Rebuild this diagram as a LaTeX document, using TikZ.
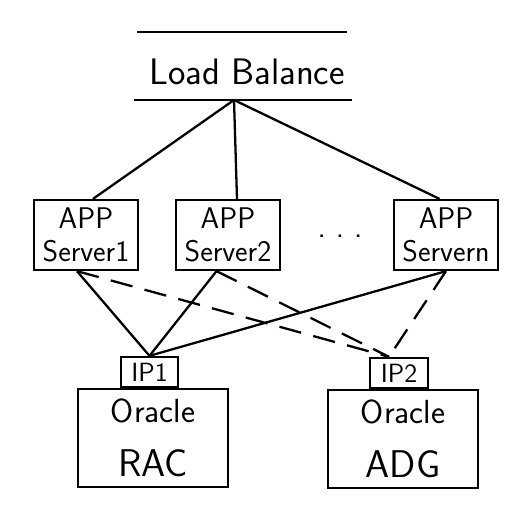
\documentclass[tikz,border=0pt]{standalone}
\usepackage{tikz}
\usetikzlibrary{calc, positioning}

\begin{document}
\begin{tikzpicture}[x=0.02cm, y=-0.02cm, line width=1.3pt, font=\sffamily,
    appbox/.style={draw, align=center, inner sep=0pt, minimum width=2.08cm, minimum height=1.4cm, font=\sffamily\fontsize{17}{19}\selectfont},
    dbbox/.style={draw, align=center, inner sep=0pt, minimum width=3cm, minimum height=1.95cm, font=\sffamily\fontsize{19}{21}\selectfont},
    ipbox/.style={draw, inner sep=0pt, minimum width=1.15cm, minimum height=0.6cm, font=\sffamily\fontsize{15}{17}\selectfont},
    longdash/.style={dash pattern=on 0.45cm off 0.25cm}]
    \useasboundingbox (0,0) rectangle (524,521);

    % Load Balance
    \node[font=\sffamily\fontsize{21}{24}\selectfont] (lb) at (247,72) {Load Balance};
    \draw (137,32) -- (347,32);
    \draw (134,100) -- (352,100);
    \coordinate (apex) at (234,100);

    % App servers
    \node[appbox] (srv1) at (86,235) {APP\\Server1};
    \node[appbox] (srv2) at (228,235) {APP\\Server2};
    \node[appbox] (srvn) at (446,235) {APP\\Servern};
    \node[font=\sffamily\fontsize{18}{20}\selectfont] (dots) at (340,236) {.\ .\ .};

    \draw (apex) -- ([xshift=0.14cm]srv1.north);
    \draw (apex) -- ([xshift=0.18cm]srv2.north);
    \draw (apex) -- ([xshift=-0.13cm]srvn.north);

    % Oracle
    \node[dbbox] (rac) at (153,438) {Oracle\\[10pt]{\fontsize{22}{24}\selectfont RAC}};
    \node[dbbox] (adg) at (403,439) {Oracle\\[10pt]{\fontsize{22}{24}\selectfont ADG}};
    \node[ipbox, above=0pt of rac, xshift=-0.07cm] (ip1) {IP1};
    \node[ipbox, above=0pt of adg, xshift=-0.08cm] (ip2) {IP2};

    % Links
    \foreach \s/\dx in {srv1/-0.18, srv2/-0.23, srvn/0} {
        \draw ([xshift=\dx cm]\s.south) -- (ip1.north);
        \draw[longdash] ([xshift=\dx cm]\s.south) -- ([xshift=-0.2cm]ip2.north);
    }
\end{tikzpicture}
\end{document}
